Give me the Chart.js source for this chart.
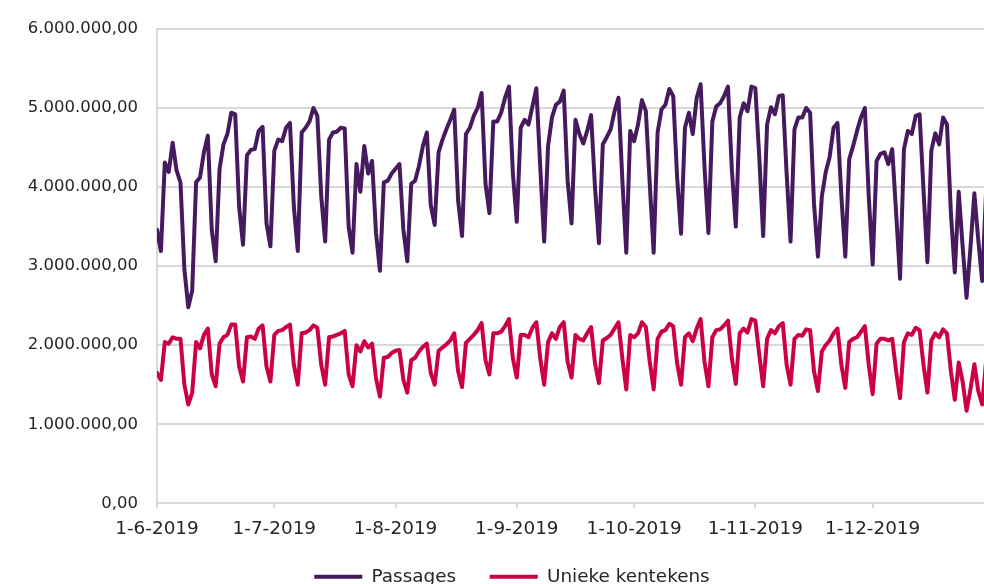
<!DOCTYPE html>
<html>
<head>
<meta charset="utf-8">
<script src="https://cdn.jsdelivr.net/npm/chart.js@4.4.1/dist/chart.umd.min.js"></script>
<style>
  html, body { margin: 0; padding: 0; background: #fff; overflow: hidden; width: 984px; height: 584px; }
  #wrap { width: 1022px; height: 596px; position: relative; }
</style>
</head>
<body>
<div id="wrap"><canvas id="chart"></canvas></div>
<script>
  // day index 0 = 1-6-2019 ... 213 = 31-12-2019, values in millions
  var passages = [
    // juni
    3.46, 3.19, 4.31, 4.19, 4.56, 4.21, 4.06, 2.96, 2.48, 2.69, 4.06, 4.12, 4.44, 4.65, 3.46,
    3.06, 4.23, 4.54, 4.67, 4.94, 4.92, 3.75, 3.27, 4.40, 4.47, 4.48, 4.71, 4.76, 3.54, 3.25,
    // juli
    4.46, 4.60, 4.58, 4.75, 4.81, 3.75, 3.19, 4.69, 4.75, 4.83, 5.00, 4.90, 3.88, 3.31, 4.60, 4.69,
    4.70, 4.75, 4.74, 3.50, 3.17, 4.29, 3.94, 4.52, 4.17, 4.33, 3.42, 2.94, 4.06, 4.08, 4.17,
    // augustus
    4.23, 4.29, 3.46, 3.06, 4.04, 4.08, 4.27, 4.52, 4.69, 3.77, 3.52, 4.44, 4.60, 4.73, 4.85, 4.98,
    3.83, 3.38, 4.67, 4.75, 4.90, 5.00, 5.19, 4.04, 3.67, 4.83, 4.83, 4.94, 5.13, 5.27, 4.17,
    // september
    3.56, 4.75, 4.85, 4.79, 5.02, 5.25, 4.25, 3.31, 4.52, 4.88, 5.04, 5.08, 5.22, 4.08, 3.54,
    4.85, 4.67, 4.55, 4.71, 4.91, 4.00, 3.29, 4.54, 4.63, 4.73, 4.96, 5.13, 4.08, 3.17, 4.71,
    // oktober
    4.58, 4.79, 5.10, 4.96, 4.04, 3.17, 4.69, 4.98, 5.04, 5.24, 5.15, 4.12, 3.41, 4.75, 4.94, 4.67,
    5.13, 5.30, 4.25, 3.42, 4.83, 5.02, 5.06, 5.15, 5.27, 4.21, 3.50, 4.88, 5.06, 4.96, 5.27,
    // november
    5.25, 4.38, 3.38, 4.79, 5.01, 4.92, 5.15, 5.16, 4.17, 3.31, 4.73, 4.88, 4.88, 5.00, 4.94,
    3.79, 3.12, 3.88, 4.19, 4.38, 4.75, 4.81, 3.88, 3.12, 4.35, 4.52, 4.71, 4.88, 5.00, 3.88,
    // december
    3.02, 4.33, 4.42, 4.44, 4.29, 4.48, 3.67, 2.84, 4.48, 4.71, 4.67, 4.90, 4.92, 3.96, 3.05, 4.46,
    4.68, 4.54, 4.88, 4.79, 3.67, 2.92, 3.94, 3.25, 2.60, 3.23, 3.92, 3.33, 2.81, 3.95, 3.50
  ];

  var uniekeKentekens = [
    // juni
    1.65, 1.56, 2.04, 2.02, 2.10, 2.08, 2.08, 1.50, 1.25, 1.40, 2.04, 1.96, 2.13, 2.21, 1.63,
    1.48, 2.02, 2.10, 2.13, 2.26, 2.26, 1.73, 1.54, 2.10, 2.11, 2.08, 2.21, 2.25, 1.73, 1.54,
    // juli
    2.13, 2.18, 2.19, 2.23, 2.26, 1.75, 1.50, 2.15, 2.16, 2.19, 2.25, 2.22, 1.75, 1.50, 2.10, 2.11,
    2.13, 2.15, 2.18, 1.63, 1.48, 2.00, 1.92, 2.05, 1.97, 2.02, 1.58, 1.35, 1.84, 1.85, 1.90,
    // augustus
    1.93, 1.94, 1.56, 1.40, 1.81, 1.84, 1.92, 1.98, 2.02, 1.65, 1.50, 1.93, 1.97, 2.01, 2.06, 2.15,
    1.67, 1.47, 2.03, 2.08, 2.13, 2.19, 2.28, 1.81, 1.63, 2.15, 2.15, 2.17, 2.24, 2.33, 1.83,
    // september
    1.59, 2.13, 2.13, 2.10, 2.22, 2.29, 1.83, 1.50, 2.04, 2.15, 2.08, 2.23, 2.29, 1.79, 1.59,
    2.13, 2.08, 2.06, 2.15, 2.23, 1.77, 1.52, 2.06, 2.09, 2.13, 2.21, 2.29, 1.83, 1.44, 2.13,
    // oktober
    2.10, 2.15, 2.29, 2.23, 1.79, 1.44, 2.08, 2.17, 2.19, 2.27, 2.24, 1.77, 1.50, 2.10, 2.15, 2.05,
    2.21, 2.33, 1.79, 1.48, 2.10, 2.19, 2.20, 2.25, 2.31, 1.83, 1.51, 2.15, 2.21, 2.16, 2.33,
    // november
    2.31, 1.88, 1.48, 2.08, 2.19, 2.15, 2.24, 2.28, 1.75, 1.50, 2.08, 2.13, 2.12, 2.20, 2.19,
    1.67, 1.42, 1.92, 2.00, 2.06, 2.15, 2.21, 1.75, 1.46, 2.04, 2.08, 2.10, 2.17, 2.24, 1.75,
    // december
    1.38, 2.02, 2.08, 2.08, 2.06, 2.08, 1.67, 1.33, 2.04, 2.15, 2.13, 2.22, 2.19, 1.75, 1.40, 2.06,
    2.15, 2.10, 2.20, 2.15, 1.67, 1.31, 1.78, 1.54, 1.17, 1.44, 1.76, 1.42, 1.25, 1.80, 1.60
  ];

  var monthStarts = [0, 30, 61, 92, 122, 153, 183];
  var tickLabels = ['1-6-2019', '1-7-2019', '1-8-2019', '1-9-2019', '1-10-2019', '1-11-2019', '1-12-2019'];
  var yTicks = [0, 1, 2, 3, 4, 5, 6];

  var purple = '#461a5e';
  var crimson = '#cc0044';
  var gridColor = '#d9d9d9';
  var textColor = '#262626';

  function nlNumber(v) {
    var s = Math.round(v).toString().replace(/\B(?=(\d{3})+(?!\d))/g, '.');
    return s + ',00';
  }

  function toPoints(arr) {
    return arr.map(function (v, i) { return { x: i, y: v }; });
  }

  // the legend sits a bit right of centre in the original
  var legendShift = {
    id: 'legendShift',
    afterLayout: function (chart) {
      chart.legend.left += 17;
      chart.legend.right += 17;
    }
  };

  var ctx = document.getElementById('chart').getContext('2d');
  window.myLine = new Chart(ctx, {
    type: 'line',
    data: {
      datasets: [
        {
          label: 'Passages',
          data: toPoints(passages),
          borderColor: purple,
          backgroundColor: purple,
          borderWidth: 4,
          borderCapStyle: 'round',
          borderJoinStyle: 'round',
          pointRadius: 0,
          tension: 0
        },
        {
          label: 'Unieke kentekens',
          data: toPoints(uniekeKentekens),
          borderColor: crimson,
          backgroundColor: crimson,
          borderWidth: 4,
          borderCapStyle: 'round',
          borderJoinStyle: 'round',
          pointRadius: 0,
          tension: 0
        }
      ]
    },
    plugins: [legendShift],
    options: {
      responsive: true,
      maintainAspectRatio: false,
      animation: false,
      layout: { padding: { top: 12.4, right: 32, left: 0, bottom: 0 } },
      plugins: {
        legend: {
          position: 'bottom',
          labels: {
            usePointStyle: true,
            pointStyle: 'line',
            pointStyleWidth: 48,
            padding: 33.7,
            color: textColor,
            font: { family: 'DejaVu Sans', size: 18.4 }
          }
        },
        tooltip: { enabled: false }
      },
      scales: {
        x: {
          type: 'linear',
          min: 0,
          max: 213,
          afterBuildTicks: function (scale) {
            scale.ticks = monthStarts.map(function (v) { return { value: v }; });
          },
          afterFit: function (scale) { scale.height = 30.6; },
          ticks: {
            autoSkip: false,
            maxRotation: 0,
            padding: 10,
            color: textColor,
            font: { family: 'DejaVu Sans', size: 18.4 },
            callback: function (value, index) { return tickLabels[index]; }
          },
          grid: { drawOnChartArea: false, drawTicks: true, tickLength: 5, color: gridColor, lineWidth: 2 },
          border: { color: gridColor, width: 2 }
        },
        y: {
          min: 0,
          max: 6,
          afterBuildTicks: function (scale) {
            scale.ticks = yTicks.map(function (v) { return { value: v }; });
          },
          afterFit: function (scale) { scale.width = 157; },
          ticks: {
            padding: 19,
            color: textColor,
            font: { family: 'DejaVu Sans', size: 16.5 },
            callback: function (value) { return nlNumber(value * 1000000); }
          },
          grid: { color: gridColor, lineWidth: 2, drawTicks: false },
          border: { color: gridColor, width: 2 }
        }
      }
    }
  });
</script>
</body>
</html>
